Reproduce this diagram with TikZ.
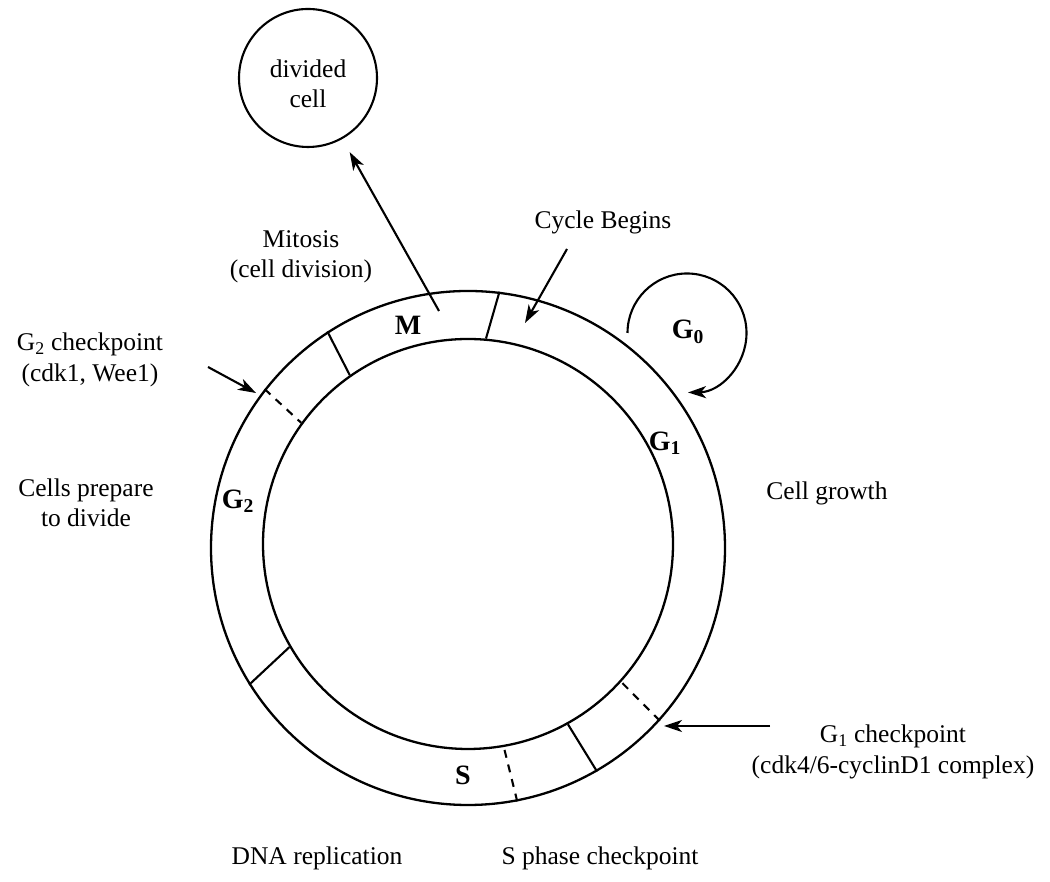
\documentclass[tikz,border=0pt]{standalone}
\usepackage{fontspec}
\setmainfont{Liberation Serif}
\usetikzlibrary{arrows.meta}
\begin{document}
\begin{tikzpicture}[x=1pt,y=1pt,
  every node/.style={font=\fontsize{25.5}{30.5}\selectfont, inner sep=0pt},
  ring/.style={circle, draw, line width=2.3pt, inner sep=0pt},
  divider/.style={line width=2.1pt},
  cpdiv/.style={line width=2.1pt, dash pattern=on 8pt off 7pt},
  arr/.style={line width=2.1pt, -{Stealth[length=18pt,width=12pt,inset=5pt]}},
  phase/.style={font=\fontsize{28}{32}\selectfont\bfseries},
  txt/.style={align=center}]
\useasboundingbox (0,0) rectangle (1050,882);
% main rings
\node[ring, minimum size=514pt] (outer) at (468,334) {};
\node[ring, minimum size=410pt] (inner) at (468,338) {};
% phase boundaries
\draw[divider] (outer.83.5) -- (inner.85.5);
\draw[divider] (outer.123.35) -- (inner.125.0);
\draw[cpdiv]   (outer.142.9) -- (inner.144.96);
\draw[divider] (outer.212.5) -- (inner.210.6);
\draw[cpdiv]   (outer.-79.4) -- (inner.-80.7);
\draw[divider] (outer.-60.4) -- (inner.-61.3);
\draw[cpdiv]   (outer.-42.3) -- (inner.-42.7);
% phase labels
\node[phase] (M)  at (408,557) {M};
\node[phase] (G1) at (665,439) {G\textsubscript{1}};
\node[phase] (G2) at (238,381) {G\textsubscript{2}};
\node[phase] (S)  at (463,107) {S};
\node[phase] (G0) at (688,550) {G\textsubscript{0}};
% divided cell
\node[ring, line width=2.1pt, minimum size=138pt] (cell) at (308,804) {};
\node[txt] (celltxt) at (308,798) {divided\\cell};
% texts
\node[txt] (mitosis) at (301,625) {Mitosis\\(cell division)};
\node[txt] (cycle) at (603,660) {Cycle Begins};
\node[txt] (g2cp) at (90,522) {G\textsubscript{2} checkpoint\\(cdk1, Wee1)};
\node[txt] (prep) at (86,379) {Cells prepare\\to divide};
\node[txt] (growth) at (827,389) {Cell growth};
\node[txt] (g1cp) at (893,130) {G\textsubscript{1} checkpoint\\(cdk4/6-cyclinD1 complex)};
\node[txt] (dna) at (317,24) {DNA replication};
\node[txt] (spcp) at (600,24) {S phase checkpoint};
% arrows
\coordinate (mtail) at (439,571);
\draw[arr, shorten >=15pt] (mtail) -- (cell);
\coordinate (cbtail) at (567,633);
\coordinate (cbtip) at (525,559);
\draw[arr] (cbtail) -- (cbtip);
\coordinate (g2tail) at (208,515);
\coordinate (g2tip) at (256,489);
\draw[arr] (g2tail) -- (g2tip);
\coordinate (g1tail) at (770,156);
\coordinate (g1tip) at (664,156);
\draw[arr] (g1tail) -- (g1tip);
\coordinate (g0start) at (627.5,549);
\draw[arr] (g0start) arc[start angle=180, end angle=-89, radius=59.5];
\end{tikzpicture}
\end{document}
